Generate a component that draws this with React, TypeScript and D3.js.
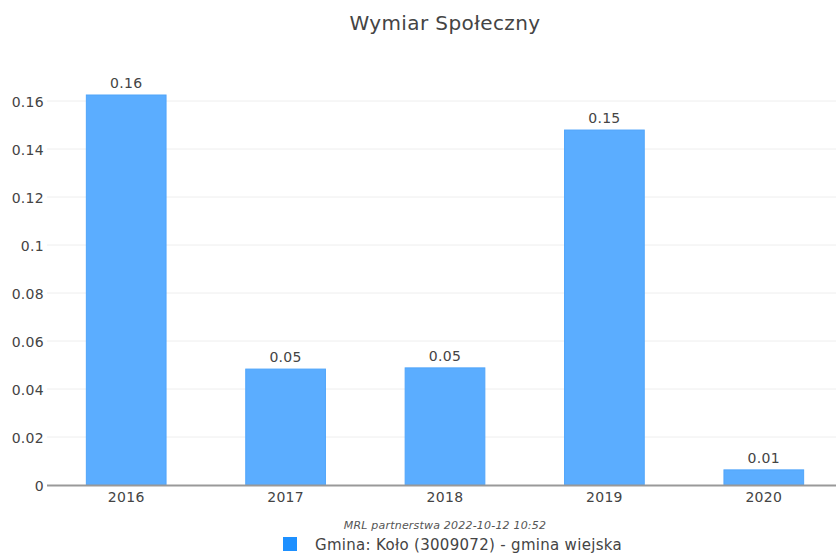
import React, { useEffect, useRef } from 'react'
import * as d3 from 'd3'

const years = ['2016', '2017', '2018', '2019', '2020']
const values = [0.1625, 0.0483, 0.0488, 0.1479, 0.0063]
const labels = ['0.16', '0.05', '0.05', '0.15', '0.01']
const yTicks = [0, 0.02, 0.04, 0.06, 0.08, 0.1, 0.12, 0.14, 0.16]

const W = 836
const H = 553
const FONT = 'Verdana, "DejaVu Sans", sans-serif'

const App = () => {
  const ref = useRef<SVGSVGElement>(null)

  useEffect(() => {
    document.body.style.margin = '0'
    const svg = d3.select(ref.current)
    svg.selectAll('*').remove()

    const x = d3.scaleBand().domain(years).range([46.5, 843.5]).paddingInner(0.5).paddingOuter(0.25)
    const y = d3.scaleLinear().domain([0, 0.16]).range([485, 101])

    // title
    svg.append('text')
      .attr('x', 445).attr('y', 30)
      .attr('text-anchor', 'middle')
      .attr('font-family', FONT).attr('font-size', 20)
      .attr('letter-spacing', 0.4)
      .attr('fill', '#444')
      .text('Wymiar Społeczny')

    // gridlines
    svg.append('g')
      .selectAll('line')
      .data(yTicks.filter((d) => d > 0))
      .enter()
      .append('line')
      .attr('x1', 47).attr('x2', W)
      .attr('y1', (d) => y(d)).attr('y2', (d) => y(d))
      .attr('stroke', '#eeeeee').attr('stroke-width', 1)

    // y labels
    svg.append('g')
      .selectAll('text')
      .data(yTicks)
      .enter()
      .append('text')
      .attr('x', 44)
      .attr('y', (d) => y(d) + 5.5)
      .attr('text-anchor', 'end')
      .attr('font-family', FONT).attr('font-size', 14)
      .attr('letter-spacing', 0.3)
      .attr('fill', '#444')
      .text((d) => d3.format('')(d))

    // bars
    svg.append('g')
      .selectAll('rect')
      .data(values)
      .enter()
      .append('rect')
      .attr('x', (d, i) => x(years[i]) as number)
      .attr('y', (d) => y(d))
      .attr('width', x.bandwidth())
      .attr('height', (d) => 485 - y(d))
      .attr('fill', 'rgb(91,173,255)')
      .attr('stroke', 'rgb(80,165,250)')
      .attr('stroke-width', 1)

    // value labels
    svg.append('g')
      .selectAll('text')
      .data(values)
      .enter()
      .append('text')
      .attr('x', (d, i) => (x(years[i]) as number) + x.bandwidth() / 2)
      .attr('y', (d) => y(d) - 7)
      .attr('text-anchor', 'middle')
      .attr('font-family', FONT).attr('font-size', 14)
      .attr('letter-spacing', 0.3)
      .attr('fill', '#444')
      .text((d, i) => labels[i])

    // x axis line
    svg.append('line')
      .attr('x1', 47).attr('x2', W)
      .attr('y1', 485.5).attr('y2', 485.5)
      .attr('stroke', '#999').attr('stroke-width', 2)

    // x labels
    svg.append('g')
      .selectAll('text')
      .data(years)
      .enter()
      .append('text')
      .attr('x', (d) => (x(d) as number) + x.bandwidth() / 2)
      .attr('y', 502)
      .attr('text-anchor', 'middle')
      .attr('font-family', FONT).attr('font-size', 14)
      .attr('letter-spacing', 0.3)
      .attr('fill', '#444')
      .text((d) => d)

    // footer
    svg.append('text')
      .attr('x', 445).attr('y', 529)
      .attr('text-anchor', 'middle')
      .attr('font-family', FONT).attr('font-size', 11)
      .attr('font-style', 'italic')
      .attr('letter-spacing', 0.2)
      .attr('fill', '#555')
      .text('MRL partnerstwa 2022-10-12 10:52')

    // legend
    svg.append('rect')
      .attr('x', 283).attr('y', 537)
      .attr('width', 14).attr('height', 14)
      .attr('fill', '#1e90ff')
    svg.append('text')
      .attr('x', 315).attr('y', 550)
      .attr('font-family', FONT).attr('font-size', 15)
      .attr('letter-spacing', 0.3)
      .attr('fill', '#444')
      .text('Gmina: Koło (3009072) - gmina wiejska')
  }, [])

  return <svg ref={ref} width={W} height={H} style={{ display: 'block', background: '#fff' }} />
}

export default App
